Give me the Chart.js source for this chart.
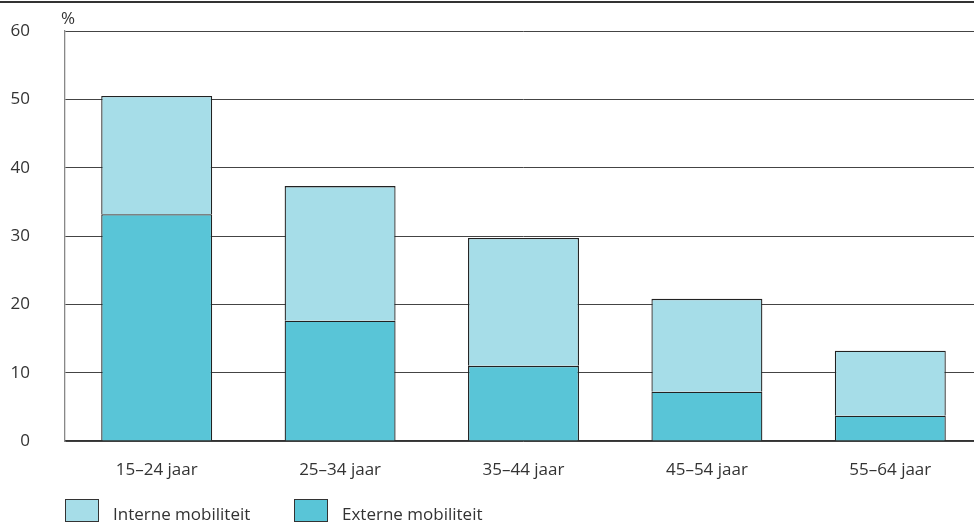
<!DOCTYPE html>
<html>
<head>
<meta charset="utf-8">
<script src="https://cdn.jsdelivr.net/npm/chart.js@4/dist/chart.umd.min.js"></script>
<style>
  html, body { margin: 0; padding: 0; background: #fff; overflow: hidden; width: 974px; height: 523px; }
  #wrap { position: relative; width: 974px; height: 523px; font-family: "Open Sans", sans-serif; color: #333; }
  #topline { position: absolute; left: 0; top: 1px; width: 974px; height: 2px; background: #333; }
  #unit { position: absolute; left: 61px; top: 6px; font-size: 17px; }
  #box { position: absolute; left: 0; top: 0; width: 990px; height: 523px; }
  .leg { position: absolute; top: 499px; font-size: 17px; }
  .leg span.sw { position: absolute; left: 0; top: 0; width: 32px; height: 21px; border: 1px solid #333; }
  .leg span.tx { position: absolute; left: 48px; top: 3px; white-space: nowrap; }
</style>
</head>
<body>
<div id="wrap">
  <div id="box"><canvas id="chart" width="990" height="523"></canvas></div>
  <div id="topline"></div>
  <div id="unit">%</div>
  <div class="leg" style="left:65px;"><span class="sw" style="background:#a6dde8;"></span><span class="tx">Interne mobiliteit</span></div>
  <div class="leg" style="left:294px;"><span class="sw" style="background:#59c5d7;"></span><span class="tx">Externe mobiliteit</span></div>
</div>
<script>
// leeftijdsgroepen en aandelen (%)
var categories = ['15–24 jaar', '25–34 jaar', '35–44 jaar', '45–54 jaar', '55–64 jaar'];
var externe = [33.2, 17.6, 11.0, 7.2, 3.7];
var interne = [17.3, 19.7, 18.7, 13.6, 9.5];
var yTicks = [0, 10, 20, 30, 40, 50, 60];

var canvas = document.getElementById('chart');
canvas.style.width = '990px';
canvas.style.height = '523px';

new Chart(canvas.getContext('2d'), {
  type: 'bar',
  data: {
    labels: categories,
    datasets: [
      {
        label: 'Externe mobiliteit',
        data: externe,
        backgroundColor: '#59c5d7',
        borderColor: '#222',
        borderWidth: 1.3,
        borderSkipped: 'bottom'
      },
      {
        label: 'Interne mobiliteit',
        data: interne,
        backgroundColor: '#a6dde8',
        borderColor: '#222',
        borderWidth: 1.3,
        borderSkipped: 'bottom'
      }
    ]
  },
  options: {
    responsive: false,
    animation: false,
    devicePixelRatio: 1,
    layout: { padding: { top: 31, right: 8, bottom: 0, left: 0 } },
    plugins: { legend: { display: false }, tooltip: { enabled: false } },
    datasets: { bar: { barPercentage: 0.605, categoryPercentage: 1 } },
    scales: {
      x: {
        stacked: true,
        grid: { display: false },
        border: { display: true, color: '#333', width: 1.3 },
        ticks: { color: '#333', font: { family: 'Open Sans', size: 17 }, padding: 11, maxRotation: 0 },
        afterFit: function (s) { s.height = 82; }
      },
      y: {
        stacked: true,
        min: 0,
        max: 60,
        afterBuildTicks: function (s) { s.ticks = yTicks.map(function (v) { return { value: v }; }); },
        // onzichtbare tick-streepjes als afstand tussen labels en as
        grid: { color: '#444', lineWidth: 1, drawTicks: true, tickLength: 33, tickColor: 'rgba(0,0,0,0)' },
        border: { display: true, color: '#888', width: 1.3 },
        ticks: { color: '#333', font: { family: 'Open Sans', size: 17 }, padding: 2 },
        afterFit: function (s) { s.width = 65; }
      }
    }
  }
});
</script>
</body>
</html>
